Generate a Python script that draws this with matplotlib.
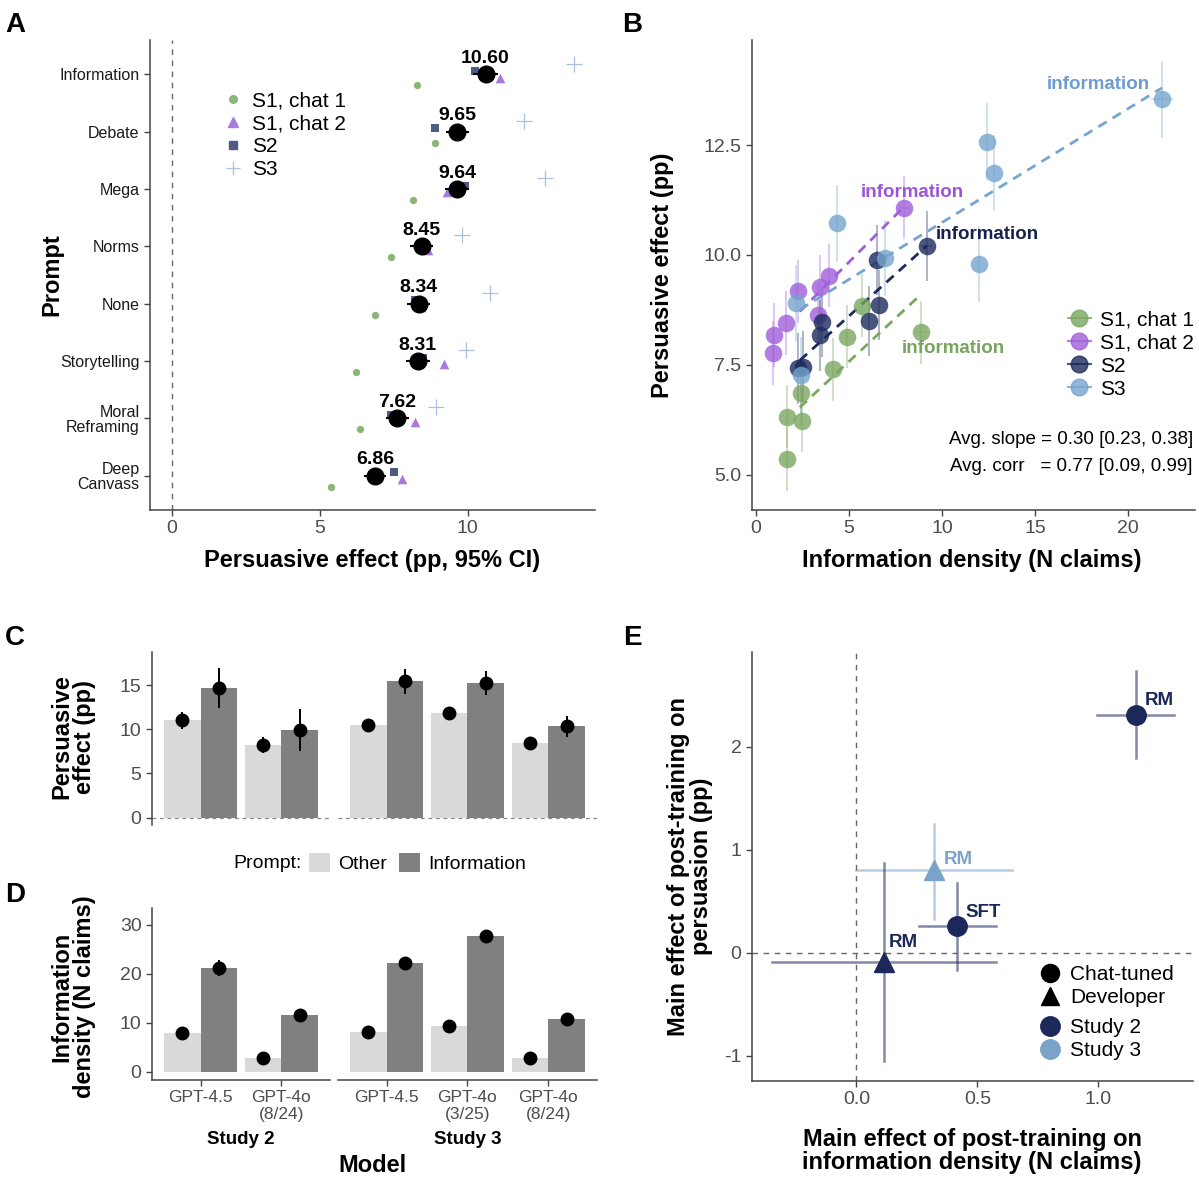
import numpy as np
import matplotlib

matplotlib.use("Agg")  # no display
import matplotlib.pyplot as plt
from matplotlib.lines import Line2D
from matplotlib.patches import Patch

plt.rcParams["font.family"] = ["Liberation Sans", "DejaVu Sans"]
plt.rcParams["axes.unicode_minus"] = False

# ---------------- panel A: persuasive effect by prompt
prompts = ["Information", "Debate", "Mega", "Norms", "None", "Storytelling",
           "Moral\nReframing", "Deep\nCanvass"]
pooled = [10.60, 9.65, 9.64, 8.45, 8.34, 8.31, 7.62, 6.86]
pooled_ci = [0.42, 0.40, 0.40, 0.39, 0.40, 0.40, 0.38, 0.37]
a_s1c1 = [8.30, 8.88, 8.15, 7.42, 6.88, 6.23, 6.36, 5.39]
a_s1c2 = [11.10, 9.59, 9.30, 8.66, 8.43, 9.20, 8.21, 7.78]
a_s2 = [10.23, 8.90, 9.91, 8.49, 8.23, 8.49, 7.42, 7.50]
a_s3 = [13.59, 11.91, 12.62, 9.82, 10.75, 9.95, 8.94, np.nan]

# ---------------- panel B: persuasion vs information density (last = information prompt)
b_names = ["S1, chat 1", "S1, chat 2", "S2", "S3"]
b_x = [
    [1.65, 1.65, 2.49, 2.40, 4.12, 4.87, 5.72, 8.89],
    [0.90, 0.97, 1.60, 2.24, 3.35, 3.44, 3.94, 7.97],
    [2.28, 2.54, 3.44, 3.57, 6.08, 6.63, 6.49, 9.18],
    [2.13, 2.40, 4.37, 6.94, 12.40, 12.81, 11.97, 21.83],
]
b_y = [
    [5.36, 6.32, 6.23, 6.86, 7.40, 8.14, 8.85, 8.24],
    [7.77, 8.18, 8.45, 9.17, 8.64, 9.28, 9.53, 11.08],
    [7.42, 7.46, 8.17, 8.48, 8.50, 8.86, 9.89, 10.21],
    [8.90, 7.26, 10.72, 9.93, 12.58, 11.86, 9.80, 13.54],
]
b_yerr = [0.72, 0.72, 0.80, 0.87]
b_info_xerr = [0.30, 0.30, 0.30, 0.57]
fit_start = 2.35
avg_text = "Avg. slope = 0.30 [0.23, 0.38]\nAvg. corr   = 0.77 [0.09, 0.99]"

# ---------------- panels C and D: by model and study
studies = ["Study 2", "Study 3"]
n_per_study = [2, 3]
models = ["GPT-4.5", "GPT-4o\n(8/24)", "GPT-4.5", "GPT-4o\n(3/25)", "GPT-4o\n(8/24)"]
c_other = np.array([11.03, 8.21, 10.50, 11.83, 8.51])
c_other_ci = np.array([0.95, 0.90, 0.30, 0.30, 0.30])
c_info = np.array([14.69, 9.92, 15.46, 15.31, 10.34])
c_info_ci = np.array([2.30, 2.35, 1.40, 1.35, 1.20])
d_other = np.array([7.84, 2.73, 8.11, 9.27, 2.86])
d_other_ci = np.array([0.30, 0.20, 0.30, 0.30, 0.20])
d_info = np.array([21.13, 11.52, 22.22, 27.74, 10.77])
d_info_ci = np.array([1.70, 0.40, 0.40, 1.00, 0.40])

# ---------------- panel E: post-training effects
e_labels = ["RM", "RM", "SFT", "RM"]
e_study = ["Study 2", "Study 3", "Study 2", "Study 2"]
e_type = ["Chat-tuned", "Developer", "Chat-tuned", "Developer"]
e_x = [1.156, 0.321, 0.417, 0.115]
e_x_lo = [0.997, 0.000, 0.260, -0.351]
e_x_hi = [1.313, 0.644, 0.576, 0.576]
e_y = [2.311, 0.800, 0.258, -0.085]
e_y_lo = [1.894, 0.332, -0.166, -1.046]
e_y_hi = [2.735, 1.250, 0.682, 0.876]

W, H = 1199, 1200
AXIS_COL = "#444444"
TICK_COL = "#4d4d4d"
B_COLS = ["#7aa65f", "#9f5fd9", "#1b2a5c", "#75a5cf"]
B_TXT = ["#78a45e", "#9b55d6", "#17224f", "#6f9ccc"]
A_COLS = ["#8db57a", "#a67bdb", "#4f5a85", "#a9c1df"]
OTHER_COL, INFO_COL = "#d9d9d9", "#808080"
E_COLS = {"Study 2": "#1b2859", "Study 3": "#7ba3c9"}
E_MARK = {"Chat-tuned": "o", "Developer": "^"}
BAR_W = 0.45


def rect(l, t, r, b):
    return [l / W, 1 - b / H, (r - l) / W, (b - t) / H]


def ftext(x, y, s, **kw):
    kw.setdefault("ha", "center")
    kw.setdefault("va", "center")
    fig.text(x / W, 1 - y / H, s, **kw)


def style(ax, size=13.5):
    for s in ("top", "right"):
        ax.spines[s].set_visible(False)
    for s in ("left", "bottom"):
        ax.spines[s].set_color(AXIS_COL)
        ax.spines[s].set_linewidth(1.1)
    ax.tick_params(colors=AXIS_COL, labelcolor=TICK_COL, labelsize=size,
                   length=4, width=1)


fig = plt.figure(figsize=(W / 100, H / 100), dpi=100)

# ================= A
axA = fig.add_axes(rect(150, 40, 595, 510))
style(axA)
ypos = np.arange(len(prompts), 0, -1)
axA.axvline(0, color="#666666", ls=(0, (4, 4)), lw=1)
axA.scatter(a_s1c1, ypos - 0.19, marker="o", s=28, color=A_COLS[0], lw=0, zorder=2)
axA.scatter(a_s1c2, ypos - 0.06, marker="^", s=48, color=A_COLS[1], lw=0, zorder=2)
axA.scatter(a_s2, ypos + 0.06, marker="s", s=30, color=A_COLS[2], lw=0, zorder=2)
axA.scatter(a_s3, ypos + 0.19, marker="+", s=120, color=A_COLS[3], lw=0.9, zorder=2)
axA.errorbar(pooled, ypos, xerr=pooled_ci, fmt="o", color="black", ms=12,
             elinewidth=1.5, capsize=0, zorder=4)
for v, y in zip(pooled, ypos):
    axA.annotate(f"{v:.2f}", (v, y), xytext=(0, 11.5), textcoords="offset points",
                 ha="center", va="center", weight="bold", size=14)
axA.set_xlim(-0.74, 14.3)
axA.set_ylim(0.4, len(prompts) + 0.6)
axA.set_xticks([0, 5, 10])
axA.set_yticks(ypos)
axA.set_yticklabels(prompts, fontsize=11.5, linespacing=1.0, color="#1a1a1a")
axA.tick_params(axis="x", labelsize=14)
a_handles = [
    Line2D([], [], marker="o", ls="none", color=A_COLS[0], ms=5.5),
    Line2D([], [], marker="^", ls="none", color=A_COLS[1], ms=7),
    Line2D([], [], marker="s", ls="none", color=A_COLS[2], ms=5.5),
    Line2D([], [], marker="+", ls="none", color=A_COLS[3], ms=10, mew=0.9),
]
axA.legend(a_handles, b_names, loc="upper left", bbox_to_anchor=(0.162, 0.89),
           frameon=False, fontsize=15, handlelength=1.0, handletextpad=0.45,
           labelspacing=0.18, borderpad=0, borderaxespad=0)
ftext(372, 561, "Persuasive effect (pp, 95% CI)", weight="bold", size=17)
ftext(52, 275, "Prompt", weight="bold", size=17, rotation=90)

# ================= B
axB = fig.add_axes(rect(752, 40, 1195, 510))
style(axB)
label_off = [((23, -11.5), "center"), ((6, 11), "center"), ((6.5, 8), "left"), ((-46, 11), "center")]
for k in range(len(b_names)):
    x = np.array(b_x[k])
    y = np.array(b_y[k])
    xerr = np.zeros_like(x)
    xerr[-1] = b_info_xerr[k]
    axB.errorbar(x, y, yerr=b_yerr[k], xerr=xerr, fmt="none", ecolor=B_COLS[k],
                 alpha=0.35, elinewidth=1.4, capsize=0, zorder=1)
    coef = np.polyfit(x, y, 1)
    xx = np.array([fit_start, x.max()])
    axB.plot(xx, np.polyval(coef, xx), ls=(0, (3.5, 2.5)), color=B_COLS[k], lw=2, zorder=2)
for k in range(len(b_names)):
    axB.scatter(b_x[k], b_y[k], s=160, color=B_COLS[k], alpha=0.8, lw=0, zorder=3)
    (dx, dy), ha = label_off[k]
    axB.annotate("information", (b_x[k][-1], b_y[k][-1]), xytext=(dx, dy),
                 textcoords="offset points", ha=ha, va="center", weight="bold",
                 size=13.5, color=B_TXT[k])
axB.set_xlim(-0.22, 23.6)
axB.set_ylim(4.2, 14.89)
axB.set_xticks([0, 5, 10, 15, 20])
axB.set_yticks([5.0, 7.5, 10.0, 12.5])
axB.set_yticklabels(["5.0", "7.5", "10.0", "12.5"])
axB.tick_params(labelsize=14)
b_handles = [Line2D([], [], marker="o", color=c, ms=12, lw=1.5, alpha=0.8) for c in B_COLS]
axB.legend(b_handles, b_names, loc="upper left", bbox_to_anchor=(0.713, 0.425),
           frameon=False, fontsize=15, handlelength=1.1, handletextpad=0.45,
           labelspacing=0.2, borderpad=0, borderaxespad=0)
axB.text(0.995, 0.122, avg_text, transform=axB.transAxes, ha="right", va="center",
         fontsize=13.5, linespacing=1.75)
ftext(972, 561, "Information density (N claims)", weight="bold", size=17)
ftext(663, 275, "Persuasive effect (pp)", weight="bold", size=17, rotation=90)

# ================= C and D
fac_l = [152, 338]
fac_r = [330, 597]
start = 0
for k, n in enumerate(n_per_study):
    sl = slice(start, start + n)
    start += n
    xs = np.arange(1, n + 1)
    axc = fig.add_axes(rect(fac_l[k], 652, fac_r[k], 825))
    axd = fig.add_axes(rect(fac_l[k], 908, fac_r[k], 1080))
    for ax, oth, oth_ci, inf, inf_ci in [(axc, c_other, c_other_ci, c_info, c_info_ci),
                                          (axd, d_other, d_other_ci, d_info, d_info_ci)]:
        style(ax, size=14)
        ax.bar(xs - BAR_W / 2, oth[sl], BAR_W, color=OTHER_COL, zorder=1)
        ax.bar(xs + BAR_W / 2, inf[sl], BAR_W, color=INFO_COL, zorder=1)
        ax.errorbar(xs - BAR_W / 2, oth[sl], yerr=oth_ci[sl], fmt="o", color="black", ms=9,
                    elinewidth=1.4, capsize=0, zorder=3)
        ax.errorbar(xs + BAR_W / 2, inf[sl], yerr=inf_ci[sl], fmt="o", color="black", ms=9,
                    elinewidth=1.4, capsize=0, zorder=3)
        ax.set_xlim(0.4, n + 0.6)
        if k > 0:
            ax.spines["left"].set_visible(False)
            ax.tick_params(axis="y", left=False, labelleft=False)
    axc.axhline(0, color="#888888", ls=(0, (3, 3)), lw=0.9, zorder=0)
    axc.spines["bottom"].set_visible(False)
    axc.set_xticks([])
    axc.set_ylim(-0.85, 18.8)
    axc.set_yticks([0, 5, 10, 15])
    axd.set_ylim(-1.7, 33.4)
    axd.set_yticks([0, 10, 20, 30])
    axd.set_xticks(xs)
    axd.set_xticklabels(models[sl], fontsize=12.5, linespacing=1.1)
    ftext((fac_l[k] + fac_r[k]) / 2, 1139, studies[k], weight="bold", size=13.5)

ftext(372, 1165, "Model", weight="bold", size=17)
ftext(73, 737, "Persuasive\neffect (pp)", weight="bold", size=17, rotation=90,
      linespacing=1.0)
ftext(73, 997, "Information\ndensity (N claims)", weight="bold", size=17, rotation=90,
      linespacing=1.0)
fig.legend([Patch(fc=OTHER_COL), Patch(fc=INFO_COL)], ["Other", "Information"], ncol=2,
           loc="center left", bbox_to_anchor=(309 / W, 1 - 863 / H), frameon=False,
           fontsize=14, handlelength=1.1, handleheight=1.1, handletextpad=0.4,
           columnspacing=0.6, borderpad=0, borderaxespad=0)
ftext(302, 863, "Prompt:", ha="right", size=14)

# ================= E
axE = fig.add_axes(rect(752, 652, 1193, 1081))
style(axE)
axE.axvline(0, color="#666666", ls=(0, (4, 4)), lw=1)
axE.axhline(0, color="#666666", ls=(0, (4, 4)), lw=1)
e_off = [(6, 10), (7, 8), (6, 10), (3, 14)]
for i in range(len(e_x)):
    c = E_COLS[e_study[i]]
    axE.plot([e_x_lo[i], e_x_hi[i]], [e_y[i], e_y[i]], color=c, alpha=0.55, lw=1.8, zorder=1)
    axE.plot([e_x[i], e_x[i]], [e_y_lo[i], e_y_hi[i]], color=c, alpha=0.55, lw=1.8, zorder=1)
    axE.plot(e_x[i], e_y[i], marker=E_MARK[e_type[i]], color=c, ms=14, ls="none", zorder=3)
    axE.annotate(e_labels[i], (e_x[i], e_y[i]), xytext=e_off[i], textcoords="offset points",
                 ha="left", va="center", weight="bold", size=13.5, color=c)
axE.set_xlim(-0.432, 1.392)
axE.set_ylim(-1.244, 2.92)
axE.set_xticks([0.0, 0.5, 1.0])
axE.set_xticklabels(["0.0", "0.5", "1.0"])
axE.set_yticks([-1, 0, 1, 2])
axE.tick_params(labelsize=14)
leg1 = axE.legend([Line2D([], [], marker=E_MARK[t], color="black", ms=13, ls="none")
                   for t in E_MARK], list(E_MARK), loc="upper left",
                  bbox_to_anchor=(0.653, 0.27), frameon=False, fontsize=15,
                  handlelength=1.0, handletextpad=0.45, labelspacing=0.2,
                  borderpad=0, borderaxespad=0)
axE.add_artist(leg1)
axE.legend([Line2D([], [], marker="o", color=E_COLS[s], ms=14, ls="none") for s in E_COLS],
           list(E_COLS), loc="upper left", bbox_to_anchor=(0.653, 0.147), frameon=False,
           fontsize=15, handlelength=1.0, handletextpad=0.45, labelspacing=0.2,
           borderpad=0, borderaxespad=0)
ftext(972, 1151, "Main effect of post-training on\ninformation density (N claims)",
      weight="bold", size=17, linespacing=1.05)
ftext(690, 866, "Main effect of post-training on\npersuasion (pp)", weight="bold",
      size=17, rotation=90, linespacing=1.05)

# panel letters
for letter, (px, py) in zip("ABCDE", [(15, 25), (632, 25), (15, 638), (15, 895), (632, 638)]):
    ftext(px, py, letter, weight="bold", size=20)

fig.savefig("out.png", dpi=100)
